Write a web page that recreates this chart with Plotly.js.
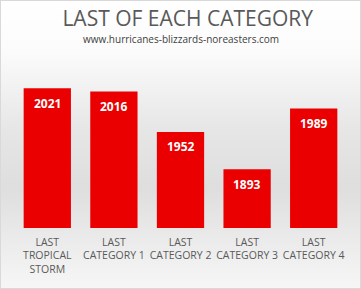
<!DOCTYPE html>
<html><head><meta charset="utf-8">
<script src="https://cdn.plot.ly/plotly-3.0.1.min.js"></script>
<style>
html,body{margin:0;padding:0;}
#wrap{width:359px;height:287px;border:1px solid #d9d9d9;background:linear-gradient(to bottom,#ffffff 0%,#fbfbfb 18%,#e6e6e6 45%,#dedede 65%,#ececec 85%,#f6f6f6 100%);}
#chart{width:359px;height:287px;}
</style></head>
<body><div id="wrap"><div id="chart"></div></div>
<script>
const categories = ["LAST<br>TROPICAL<br>STORM","LAST<br>CATEGORY 1","LAST<br>CATEGORY 2","LAST<br>CATEGORY 3","LAST<br>CATEGORY 4"];
const years = [2021, 2016, 1952, 1893, 1989];
const titleText = "LAST OF EACH CATEGORY";
const subtitleText = "www.hurricanes-blizzards-noreasters.com";

const font = "'Open Sans', 'Liberation Sans', sans-serif";
const trace = {
  type: "bar", x: categories, y: years,
  marker: {color: "#ea0000", line: {width: 0}},
  hoverinfo: "none"
};
const anns = categories.map((c, i) => ({
  x: c, y: years[i], xref: "x", yref: "y", yshift: -15, showarrow: false,
  text: "<b>" + years[i] + "</b>",
  font: {family: font, size: 12, color: "#ffffff"}
}));
anns.push({
  xref: "paper", yref: "paper", x: 0.5, y: 1, yshift: 31, xanchor: "center", yanchor: "middle",
  showarrow: false, text: subtitleText, font: {family: font, size: 10, color: "#404040"}
});
const layout = {
  width: 359, height: 287,
  margin: {l: 13, r: 13, t: 69, b: 60},
  paper_bgcolor: "rgba(0,0,0,0)", plot_bgcolor: "rgba(0,0,0,0)",
  title: {text: titleText, x: 0.52, xanchor: "center", y: 0.94, yanchor: "middle",
          font: {family: font, size: 21, color: "#595959"}},
  bargap: 0.29,
  xaxis: {tickfont: {family: font, size: 10.5, color: "#595959"}, tickangle: 0, automargin: false,
          showline: false, ticks: "", ticklabelstandoff: 6, fixedrange: true},
  yaxis: {range: [1800, 2050], visible: false, showgrid: false, zeroline: false},
  annotations: anns,
  showlegend: false
};
Plotly.newPlot("chart", [trace], layout, {displayModeBar: false, staticPlot: true});
</script></body></html>
